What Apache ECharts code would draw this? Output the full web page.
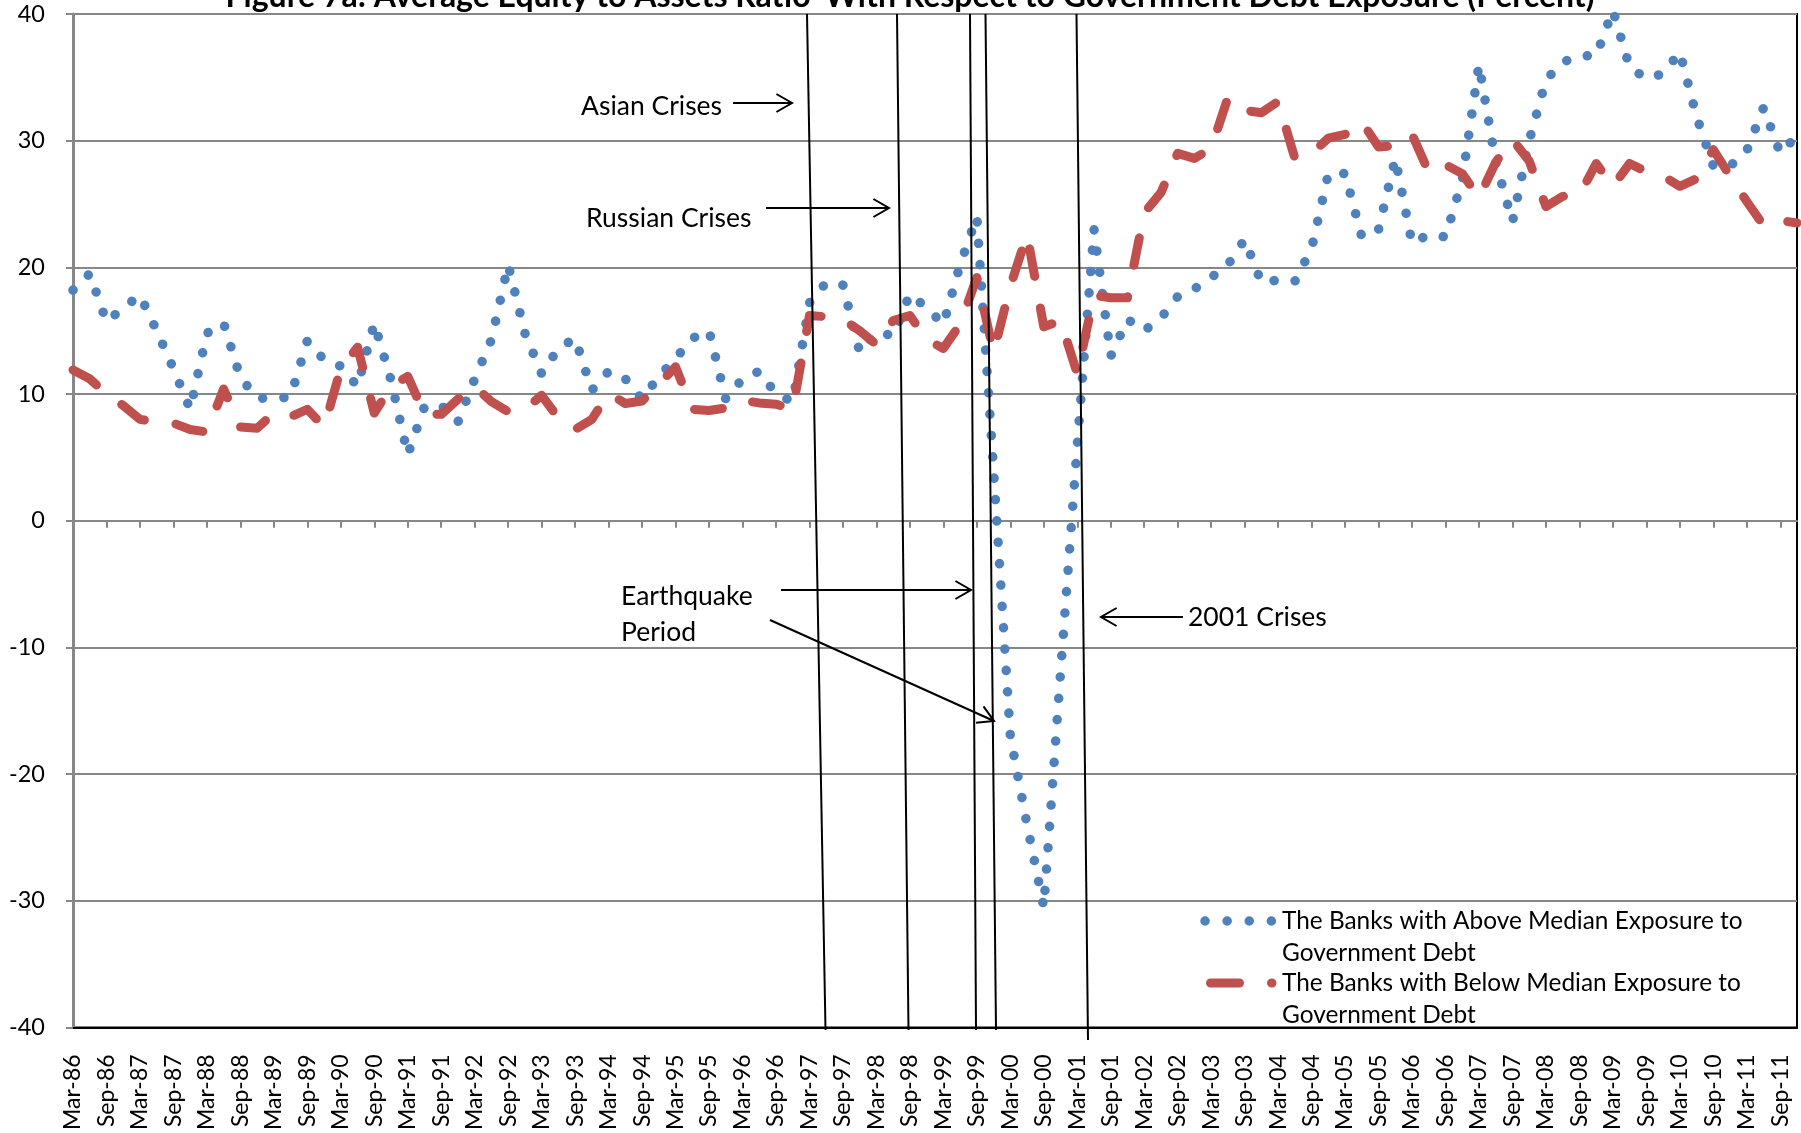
<!DOCTYPE html>
<html>
<head>
<meta charset="utf-8">
<script src="https://cdn.jsdelivr.net/npm/echarts@6/dist/echarts.min.js"></script>
<style>
  html, body { margin: 0; padding: 0; background: #ffffff; }
  #chart { width: 1801px; height: 1133px; }
</style>
</head>
<body>
<div id="chart"></div>
<script>
// Quarter-end labels, Mar-86 .. Dec-11
const quarterMonths = ['Mar', 'Jun', 'Sep', 'Dec'];
const categories = [];
for (let y = 1986; y <= 2011; y++) {
  for (const m of quarterMonths) categories.push(m + '-' + String(y % 100).padStart(2, '0'));
}

// Average equity to assets ratio (percent), banks with above median exposure to government debt
const aboveMedian = [
  18.2, 19.5, 15.7, 16.8, 17.8, 15.0, 12.0, 8.8, 14.8, 15.6,
  11.3, 9.7, 9.6, 9.8, 14.2, 12.7, 12.2, 10.6, 15.6, 11.1,
  5.2, 9.0, 9.1, 7.8, 11.2, 14.3, 20.2, 14.8, 11.6, 13.6,
  14.4, 10.3, 11.8, 11.2, 9.6, 11.4, 12.8, 14.4, 15.0, 9.6,
  11.2, 11.8, 10.0, 9.4, 17.2, 18.8, 18.6, 13.3, 14.9, 14.6,
  17.9, 16.8, 15.5, 20.2, 24.0, 4.0, -17.0, -24.0, -30.5, -12.0,
  6.0, 23.0, 13.0, 15.9, 15.0, 16.0, 17.7, 18.3, 19.2, 20.2,
  22.2, 18.8, 19.0, 18.9, 21.5, 27.4, 27.4, 22.4, 23.0, 28.6,
  21.9, 22.6, 22.4, 26.9, 36.0, 28.3, 23.6, 30.0, 34.8, 36.2,
  36.7, 36.7, 40.3, 35.8, 34.9, 35.3, 37.0, 31.9, 28.0, 28.0,
  29.2, 32.6, 29.0, 30.4
];

// Average equity to assets ratio (percent), banks with below median exposure to government debt
const belowMedian = [
  11.9, 11.2, 10.0, 9.1, 8.0, 7.8, 7.7, 7.2, 7.0, 10.4,
  7.4, 7.3, 8.5, 8.2, 8.8, 7.4, 12.0, 13.7, 8.5, 10.6,
  11.4, 8.4, 8.4, 9.6, 10.6, 9.4, 8.6, 8.8, 9.9, 8.1,
  7.2, 8.0, 10.05, 9.25, 9.45, 10.8, 12.15, 8.8, 8.7, 8.9,
  9.5, 9.3, 9.2, 8.8, 16.2, 16.1, 15.9, 15.0, 13.9, 15.8,
  16.2, 14.3, 13.6, 15.5, 19.2, 13.3, 18.5, 22.6, 15.3, 15.8,
  11.6, 17.8, 17.6, 17.6, 24.3, 25.9, 29.0, 28.6, 29.4, 33.4,
  32.4, 32.2, 33.1, 28.6, 29.0, 30.2, 30.5, 31.5, 29.5, 29.6,
  30.5, 27.5, 28.1, 27.4, 25.5, 28.3, 30.1, 28.4, 24.8, 25.6,
  25.7, 28.2, 26.4, 28.2, 27.55, 27.2, 26.4, 27.0, 29.3, 27.2,
  25.2, 23.3, 23.7, 23.5
];

const seriesNames = [
  'The Banks with Above Median Exposure to Government Debt',
  'The Banks with Below Median Exposure to Government Debt'
];
const titleText = "Figure 7a: Average Equity to Assets Ratio' With Respect to Government Debt Exposure (Percent)";

const BLUE = '#4F81BD';
const RED = '#C0504D';
const GRID_GRAY = '#878787';
const FONT = 'Lato, "Open Sans", sans-serif';

const dotDash = [0.1, 21.3];
const longDash = [28, 32];

function arrow(x1, y1, x2, y2) {
  const ang = Math.atan2(y2 - y1, x2 - x1);
  const L = 18, a = Math.PI / 6;
  return [
    { type: 'line', shape: { x1, y1, x2, y2 }, style: { stroke: '#000', lineWidth: 2 }, z: 50 },
    { type: 'polyline', shape: { points: [
        [x2 - L * Math.cos(ang - a), y2 - L * Math.sin(ang - a)],
        [x2, y2],
        [x2 - L * Math.cos(ang + a), y2 - L * Math.sin(ang + a)]
      ] }, style: { stroke: '#000', lineWidth: 2, fill: null }, z: 50 }
  ];
}
function vline(x1, y1, x2, y2) {
  return { type: 'line', shape: { x1, y1, x2, y2 }, style: { stroke: '#000', lineWidth: 2 }, z: 50 };
}
function label(text, x, y, size) {
  return { type: 'text', z: 50, style: {
    text, x, y, fill: '#000', font: (size || 26.5) + 'px ' + FONT,
    align: 'left', textAlign: 'left', verticalAlign: 'middle', textVerticalAlign: 'middle'
  } };
}

const graphics = [].concat(
  // title, partly above the canvas edge
  [{ type: 'text', z: 60, style: {
      text: titleText, x: 910, y: -3.5, fill: '#000', font: 'bold 32px ' + FONT,
      align: 'center', textAlign: 'center', verticalAlign: 'middle', textVerticalAlign: 'middle' } }],
  // event markers
  [vline(807, 14, 825.5, 1030), vline(897, 14, 908.5, 1030), vline(970, 14, 976, 1030),
   vline(985.5, 14, 996, 1030), vline(1076.5, 14, 1088, 1040)],
  arrow(733, 103, 792, 103),
  arrow(766, 208, 889, 208),
  arrow(781, 590, 971, 590),
  arrow(770, 620, 994, 721),
  arrow(1183, 617, 1101, 617),
  [label('Asian Crises', 581, 106), label('Russian Crises', 586, 218),
   label('Earthquake', 621, 596), label('Period', 621, 632), label('2001 Crises', 1188, 617)],
  // legend
  [{ type: 'line', shape: { x1: 1205, y1: 921, x2: 1272, y2: 921 },
     style: { stroke: BLUE, lineWidth: 9.5, lineDash: [0.1, 22], lineCap: 'round' }, z: 40 },
   { type: 'line', shape: { x1: 1210.5, y1: 983, x2: 1272, y2: 983 },
     style: { stroke: RED, lineWidth: 9, lineDash: [29, 32], lineCap: 'round' }, z: 40 },
   label('The Banks with Above Median Exposure to', 1282, 921, 24.4),
   label('Government Debt', 1282, 953, 24.4),
   label('The Banks with Below Median Exposure to', 1282, 983, 24.4),
   label('Government Debt', 1282, 1015, 24.4)]
);

const chart = echarts.init(document.getElementById('chart'), null, { renderer: 'canvas' });
chart.setOption({
  animation: false,
  backgroundColor: '#ffffff',
  grid: { left: 73, right: 4, top: 14, bottom: 103, show: true, borderColor: '#000', borderWidth: 2, backgroundColor: 'transparent' },
  xAxis: [
    {
      type: 'category', data: categories, boundaryGap: false, position: 'bottom',
      axisLine: { onZero: false, lineStyle: { color: '#000', width: 2 } },
      axisTick: { show: false },
      axisLabel: { interval: 1, rotate: 90, margin: 27, fontSize: 23, fontFamily: FONT, color: '#000', hideOverlap: false },
      splitLine: { show: false }
    },
    {
      type: 'category', data: categories, boundaryGap: false, position: 'top',
      axisLine: { onZero: true, lineStyle: { color: GRID_GRAY, width: 2 } },
      axisTick: { show: true, inside: true, interval: 1, length: 7, lineStyle: { color: GRID_GRAY, width: 2 } },
      axisLabel: { show: false },
      splitLine: { show: false }
    }
  ],
  yAxis: {
    type: 'value', min: -40, max: 40, interval: 10,
    axisLine: { show: true, lineStyle: { color: GRID_GRAY, width: 3 } },
    axisTick: { show: true, length: 7, lineStyle: { color: GRID_GRAY, width: 2 } },
    axisLabel: { margin: 28, fontSize: 23.5, fontFamily: FONT, color: '#000' },
    splitLine: { show: true, lineStyle: { color: GRID_GRAY, width: 2 } }
  },
  series: [
    {
      name: seriesNames[0], type: 'line', data: aboveMedian, xAxisIndex: 0,
      symbol: 'none', smooth: false,
      lineStyle: { color: BLUE, width: 9.5, type: dotDash, cap: 'round', join: 'round' }
    },
    {
      name: seriesNames[1], type: 'line', data: belowMedian, xAxisIndex: 0,
      symbol: 'none', smooth: false,
      lineStyle: { color: RED, width: 9, type: longDash, cap: 'round', join: 'round' }
    }
  ],
  graphic: graphics
});
</script>
</body>
</html>
